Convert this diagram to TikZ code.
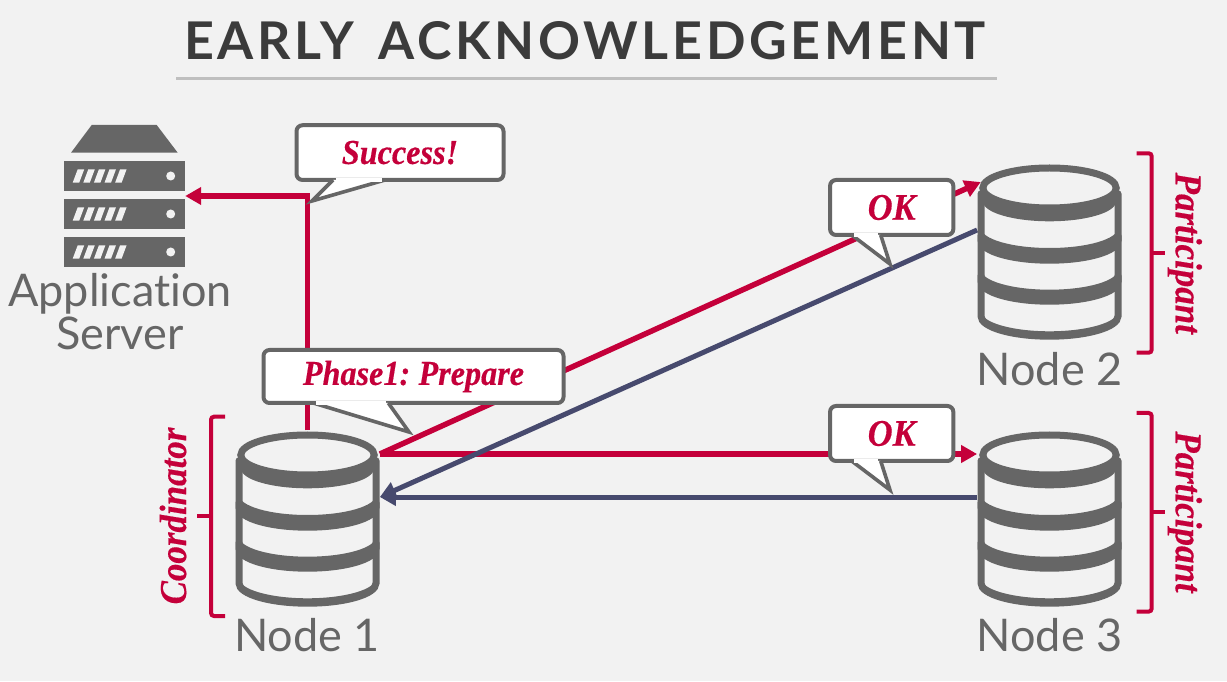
\documentclass[tikz,border=0pt]{standalone}
\usepackage{fontspec}
\setmainfont[Ligatures=NoCommon]{Lato}
\newfontfamily\titlefont[LetterSpace=7.1,WordSpace=1.5]{Lato}
\newfontfamily\calloutfont[FakeStretch=0.92,FakeBold=0.4,WordSpace=0.7]{Liberation Serif}
\usetikzlibrary{arrows.meta}

\definecolor{slidebg}{HTML}{F2F2F2}
\definecolor{iconGray}{HTML}{666666}
\definecolor{titleGray}{HTML}{3B3B3B}
\definecolor{ruleGray}{HTML}{BFBFBF}
\definecolor{cmuRed}{HTML}{C4003A}
\definecolor{replyBlue}{HTML}{474A6E}

\newcommand{\calloutTail}[3]{
    \draw[tail] (#1) -- (#2) -- (#3);
    \draw[white, line width=4.6pt, shorten <=2.6pt, shorten >=2.6pt] (#1) -- (#3);
}

\tikzset{
    dbbox/.style={minimum width=144.4pt, minimum height=176pt, inner sep=0pt},
    serverbox/.style={minimum width=121pt, minimum height=142pt, inner sep=0pt},
    label/.style={text=iconGray, font=\fontsize{45}{45}\selectfont, anchor=base, inner sep=0pt},
    rolelabel/.style={text=cmuRed, font=\calloutfont\bfseries\itshape\fontsize{38}{38}\selectfont, anchor=base, inner sep=0pt},
    calloutbox/.style={draw=iconGray, fill=white, line width=4pt, rounded corners=6pt, inner sep=0pt,
        text=cmuRed, font=\calloutfont\bfseries\itshape\fontsize{35}{35}\selectfont},
    oktext/.style={font=\calloutfont\bfseries\itshape\fontsize{37.5}{37.5}\selectfont},
    tail/.style={draw=iconGray, fill=white, line width=3.6pt, line join=miter},
    request/.style={draw=cmuRed, line width=5.5pt, -{Triangle[length=16pt,width=17pt]}},
    reply/.style={draw=replyBlue, line width=5pt, -{Triangle[length=16pt,width=17pt]}},
    bracket/.style={draw=cmuRed, line width=4pt, rounded corners=3pt},
    dbicon/.pic={
        % tiers: top of side, outer bottom, inner bottom
        \foreach \t/\o/\i in {58/-12/3.7, 16/-53/-38, -24/-88/-79.6} {
            \fill[iconGray] (-68.5,\i+20) arc[start angle=180, end angle=360, x radius=68.5, y radius=20]
                -- (68.5,\o+23.5) arc[start angle=0, end angle=-180, x radius=68.5, y radius=20] -- cycle;
            \draw[iconGray, line width=7pt, line cap=round] (-68.5,\t) -- (-68.5,\o+23.5)
                arc[start angle=180, end angle=360, x radius=68.5, y radius=20] -- (68.5,\t);
        }
        % top disc
        \fill[iconGray] (-66.7,63.7) arc[start angle=180, end angle=360, x radius=66.7, y radius=20]
            -- (66.7,50.4) arc[start angle=0, end angle=-180, x radius=66.7, y radius=20] -- cycle;
        \draw[iconGray, line width=7pt, fill=slidebg] (0,63.7) ellipse[x radius=66.7, y radius=20];
    },
    servericon/.pic={
        \fill[iconGray] (-32.8,71) -- (32.2,71) -- (53.2,43.3) -- (-53.5,43.3) -- cycle;
        \foreach \y in {0,-38,-76} {
            \begin{scope}[yshift=\y pt]
                \fill[iconGray] (-60.5,5.3) rectangle (60.5,35.3);
                \fill[slidebg] (46.2,20) circle[radius=4.5];
                \foreach \x in {0,...,4} {
                    \fill[slidebg] (-51.8+10.6*\x,13.3) -- ++(6.5,0) -- ++(5,13.4) -- ++(-6.5,0) -- cycle;
                }
            \end{scope}
        }
    }
}

\begin{document}
\begin{tikzpicture}[x=1pt, y=1pt]
    \useasboundingbox[fill=slidebg] (0,0) rectangle (1227,681);

    % Title
    \node (title) at (585,621) [anchor=base, inner sep=0pt, text=titleGray,
        font=\titlefont\bfseries\fontsize{52}{52}\selectfont] {EARLY ACKNOWLEDGEMENT};
    \coordinate (ruleL) at (176,602);
    \coordinate (ruleR) at (997,602);
    \draw[ruleGray, line width=3pt] (ruleL) -- (ruleR);

    % Define nodes for the server and the databases
    \node at (124.5,485) (server) [serverbox] {};
    \node at (307.5,162.3) (n1) [dbbox] {};
    \node at (1049.5,429.3) (n2) [dbbox] {};
    \node at (1049.5,162.3) (n3) [dbbox] {};

    % Draw edges
    \draw[request] (n1.north) |- (server.east);
    \draw[request, shorten >=-4pt] ([yshift=64.7pt]n1.east) -- ([yshift=68pt]n2.west);
    \draw[request] ([yshift=64.7pt]n1.east) -- ([yshift=64.7pt]n3.west);
    \draw[reply] ([yshift=21.7pt]n2.west) -- ([yshift=21.7pt]n1.east);
    \draw[reply] ([yshift=21.7pt]n3.west) -- ([yshift=21.7pt]n1.east);

    % Icons
    \pic at (server) {servericon};
    \pic at (n1) {dbicon};
    \pic at (n2) {dbicon};
    \pic at (n3) {dbicon};

    % Labels
    \node at (120,374.3) (appname) [label] {Application};
    \node at (120,331) (srvname) [label] {Server};
    \node at (307,29.3) (n1name) [label] {Node 1};
    \node at (1049.5,295) (n2name) [label] {Node 2};
    \node at (1049.5,29.3) (n3name) [label] {Node 3};

    % Callouts
    \node at (413.5,304.5) (prepare) [calloutbox, minimum width=300pt, minimum height=53pt] {Phase1: Prepare};
    \calloutTail{313.3,278}{409,249}{388.3,278}
    \node at (400,528.4) (success) [calloutbox, minimum width=207pt, minimum height=54.7pt] {Success!};
    \calloutTail{333,501}{312,480}{385,501}
    \node at (891.7,473.5) (ok1) [calloutbox, oktext, minimum width=123.3pt, minimum height=55pt] {OK};
    \calloutTail{851.7,446}{890,417}{880.7,446}
    \node at (891.7,247.5) (ok2) [calloutbox, oktext, minimum width=123.3pt, minimum height=55pt] {OK};
    \calloutTail{851.7,220}{890,191}{880.7,220}

    % Brackets
    \draw[bracket] (225,264.3) -- (211,264.3) -- (211,65) -- (225,65);
    \draw[bracket, rounded corners=0pt] (211,165) -- (197,165);
    \draw[bracket] (1136.7,527.7) -- (1151.7,527.7) -- (1151.7,328.3) -- (1136.7,328.3);
    \draw[bracket, rounded corners=0pt] (1151.7,427.7) -- (1165,427.7);
    \draw[bracket] (1136.7,268) -- (1151.7,268) -- (1151.7,69.4) -- (1136.7,69.4);
    \draw[bracket, rounded corners=0pt] (1151.7,169) -- (1165,169);

    % Roles
    \node at (186,165) (coord) [rolelabel, rotate=90] {Coordinator};
    \node at (1175.7,427.7) (part2) [rolelabel, rotate=-90] {Participant};
    \node at (1175.7,169) (part3) [rolelabel, rotate=-90] {Participant};
\end{tikzpicture}
\end{document}
